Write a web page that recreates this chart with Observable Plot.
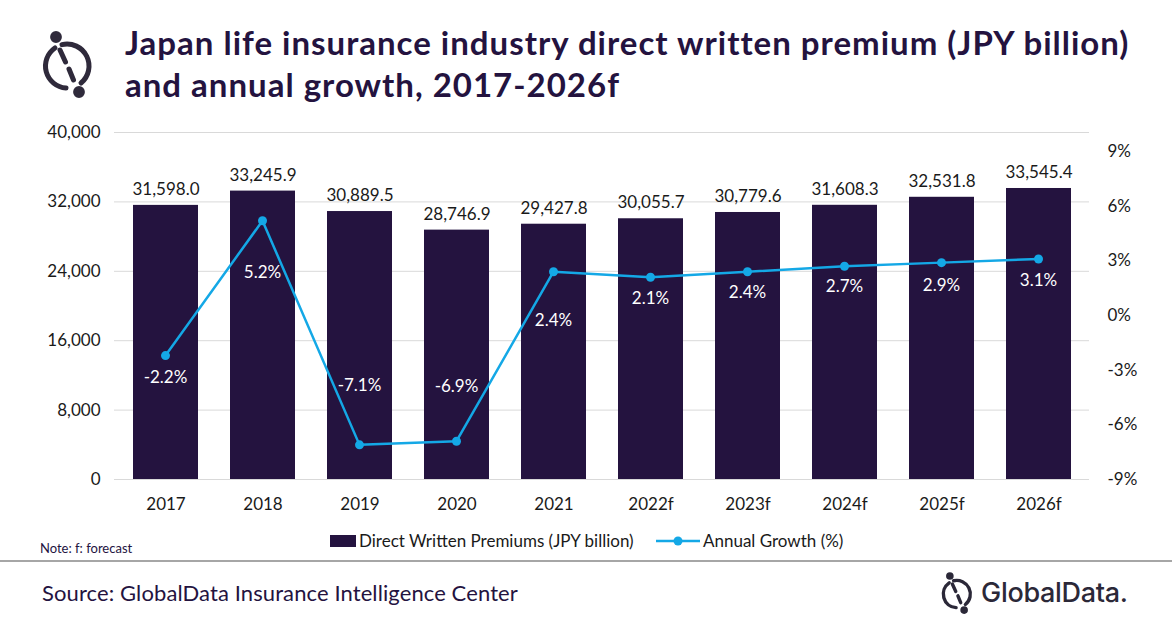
<!DOCTYPE html>
<html>
<head>
<meta charset="utf-8">
<script src="https://cdn.jsdelivr.net/npm/d3@7"></script>
<script src="https://cdn.jsdelivr.net/npm/@observablehq/plot@0.6"></script>
<style>
  html, body { margin: 0; padding: 0; background: #fff; }
  #wrap { position: relative; width: 1172px; height: 628px; overflow: hidden; font-family: Lato, "Open Sans", sans-serif; }
  .abs { position: absolute; }
  #title { left: 125px; top: 21px; font-weight: 700; font-size: 33px; letter-spacing: 1px; line-height: 42px; color: #24133f; white-space: nowrap; }
  #plots svg { position: absolute; left: 0; top: 0; }
  #legend { top: 529px; left: 0; width: 1172px; height: 24px; }
  #note { left: 40px; top: 540px; font-size: 13px; color: #24133f; }
  #sep { left: 0; top: 560px; width: 1172px; height: 0; border-top: 2px solid #a6a6a6; }
  #source { left: 42px; top: 579px; font-size: 22px; letter-spacing: 0.1px; color: #24133f; }
  #brand { left: 981px; top: 576px; font-size: 27px; font-weight: 500; color: #2b2838; font-family: Inter, Lato, sans-serif; letter-spacing: -0.3px; }
</style>
</head>
<body>
<div id="wrap">
  <svg class="abs" style="left:0;top:0" width="1172" height="628">
    <defs>
      <g id="gdlogo">
        <g fill="none" stroke-linecap="round">
          <path d="M 54.9 48 A 22 22 0 0 0 66 88" />
          <path d="M 62 44.6 A 22 22 0 0 1 81 83" />
          <path d="M 60 50 L 65.5 62" />
          <path d="M 69 69 L 73.5 80" />
        </g>
        <circle cx="56" cy="37" r="3.4"/>
        <circle cx="79" cy="92" r="3.4"/>
      </g>
    </defs>
    <use href="#gdlogo" stroke="#2f2a3b" fill="#2f2a3b" stroke-width="5"/>
    <g transform="translate(957,594) scale(0.62) translate(-67.5,-66)">
      <use href="#gdlogo" stroke="#2b2838" fill="#2b2838" stroke-width="5.5"/>
    </g>
  </svg>
  <div id="title" class="abs">Japan life insurance industry direct written premium (JPY billion)<br>and annual growth, 2017-2026f</div>
  <div id="plots" class="abs" style="left:0;top:0;width:1172px;height:529px"></div>
  <div id="legend" class="abs">
    <svg width="1172" height="24" style="position:absolute;left:0;top:0">
      <rect x="330" y="6" width="26" height="12" fill="#24133f"/>
      <text x="359" y="18" font-size="17" fill="#1a1a1a" font-family="Lato, sans-serif">Direct Written Premiums (JPY billion)</text>
      <line x1="656" x2="700" y1="12" y2="12" stroke="#14a8e6" stroke-width="2.5"/>
      <circle cx="678" cy="12" r="4.5" fill="#14a8e6"/>
      <text x="703" y="18" font-size="17" fill="#1a1a1a" font-family="Lato, sans-serif">Annual Growth (%)</text>
    </svg>
  </div>
  <div id="note" class="abs">Note: f: forecast</div>
  <div id="sep" class="abs"></div>
  <div id="source" class="abs">Source: GlobalData Insurance Intelligence Center</div>
  <div id="brand" class="abs">GlobalData.</div>
</div>
<script>
const years = ["2017","2018","2019","2020","2021","2022f","2023f","2024f","2025f","2026f"];
const premiums = [31598.0, 33245.9, 30889.5, 28746.9, 29427.8, 30055.7, 30779.6, 31608.3, 32531.8, 33545.4];
const growth = [-2.2, 5.2, -7.1, -6.9, 2.4, 2.1, 2.4, 2.7, 2.9, 3.1];
const leftTicks = [0, 8000, 16000, 24000, 32000, 40000];
const rightTicks = [-9, -6, -3, 0, 3, 6, 9];

const barColor = "#24133f";
const lineColor = "#14a8e6";
const growthLabelDy = [22, 52, -59, -55, 49, 21, 21, 20, 23, 22];

const rows = years.map((y, i) => ({year: y, premium: premiums[i], growth: growth[i]}));

const common = {
  width: 1172, height: 529,
  marginLeft: 114, marginRight: 83, marginTop: 132, marginBottom: 50,
  style: {fontFamily: "Lato, 'Open Sans', sans-serif", fontSize: "17px", color: "#1a1a1a", background: "transparent", overflow: "visible"}
};
const xBand = {domain: years, paddingInner: 0.333, paddingOuter: 0.1665, label: null};

const bars = Plot.plot({
  ...common,
  x: xBand,
  y: {domain: [0, 40000], label: null},
  marks: [
    Plot.gridY(leftTicks, {stroke: "#d9d9d9", strokeOpacity: 1, strokeWidth: 1}),
    Plot.barY(rows, {x: "year", y: "premium", fill: barColor}),
    Plot.axisY(leftTicks, {anchor: "left", tickSize: 0, tickPadding: 14, tickFormat: d3.format(","), fontSize: 17, fill: "#1a1a1a", label: null}),
    Plot.axisX({tickSize: 0, tickPadding: 18, fontSize: 17, fill: "#1a1a1a", label: null}),
    Plot.text(rows, {x: "year", y: "premium", text: d => d3.format(",.1f")(d.premium), dy: -16, fontSize: 17, fill: "#1a1a1a"})
  ]
});

const line = Plot.plot({
  ...common,
  x: {...xBand, axis: null},
  y: {domain: [-9, 10.04], label: null},
  marks: [
    Plot.lineY(rows, {x: "year", y: "growth", stroke: lineColor, strokeWidth: 2.5}),
    Plot.dot(rows, {x: "year", y: "growth", r: 4.5, fill: lineColor}),
    Plot.axisY(rightTicks, {anchor: "right", tickSize: 0, tickPadding: 18, tickFormat: d => d + "%", fontSize: 17, fill: "#1a1a1a", label: null}),
    ...rows.map((d, i) => Plot.text([d], {x: "year", y: "growth", text: r => r.growth.toFixed(1) + "%", dy: growthLabelDy[i], fontSize: 17, fill: "#ffffff"}))
  ]
});

const holder = document.getElementById("plots");
holder.appendChild(bars);
holder.appendChild(line);
</script>
</body>
</html>
